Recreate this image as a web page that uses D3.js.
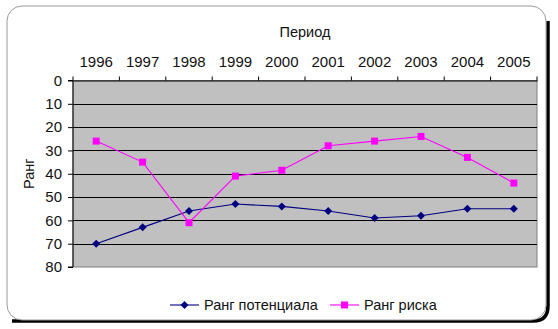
<!DOCTYPE html>
<html>
<head>
<meta charset="utf-8">
<script src="https://cdn.jsdelivr.net/npm/d3@7"></script>
<style>
  body { margin: 0; background: #fff; }
  text { font-family: "Liberation Sans", Arial, sans-serif; fill: #111; }
</style>
</head>
<body>
<script>
var w = 558;
var h = 329;

var years = ["1996", "1997", "1998", "1999", "2000", "2001", "2002", "2003", "2004", "2005"];
var potential = [70, 63, 56, 53, 54, 56, 59, 58, 55, 55];
var risk = [26, 35, 61, 41, 38.5, 28, 26, 24, 33, 44];
var yTicks = [0, 10, 20, 30, 40, 50, 60, 70, 80];

var pLeft = 73, pRight = 537, pTop = 80.5, pBottom = 267;

var svg = d3.select("body")
  .append("svg")
  .attr("width", w)
  .attr("height", h);

// frame with shadow
svg.append("path")
  .attr("d", "M 12 321 H 533 Q 548 321 548 306 V 21")
  .attr("fill", "none")
  .attr("stroke", "#000")
  .attr("stroke-width", 3.5);
svg.append("rect")
  .attr("x", 7).attr("y", 6)
  .attr("width", 539).attr("height", 314)
  .attr("rx", 15)
  .attr("fill", "#fff")
  .attr("stroke", "#9a9a9a")
  .attr("stroke-width", 1);

var xScale = d3.scaleBand()
  .domain(years)
  .range([pLeft, pRight]);

var yScale = d3.scaleLinear()
  .domain([0, 80])
  .range([pTop, pBottom]);

// plot area
svg.append("rect")
  .attr("x", pLeft).attr("y", pTop)
  .attr("width", pRight - pLeft).attr("height", pBottom - pTop)
  .attr("fill", "#c0c0c0")
  .attr("stroke", "#808080")
  .attr("stroke-width", 1);

svg.append("g")
  .selectAll("line")
  .data(yTicks.slice(1, -1))
  .enter()
  .append("line")
  .attr("x1", pLeft).attr("x2", pRight)
  .attr("y1", function(d) { return Math.round(yScale(d)) + 0.5; })
  .attr("y2", function(d) { return Math.round(yScale(d)) + 0.5; })
  .attr("stroke", "#000")
  .attr("stroke-width", 1.2);

// y axis
var yAxis = d3.axisLeft(yScale)
  .tickValues(yTicks)
  .tickSize(5)
  .tickPadding(6);

var gy = svg.append("g")
  .attr("transform", "translate(" + pLeft + ",0)")
  .call(yAxis);
gy.selectAll("text").style("font-size", "15px").attr("fill", "#111");
gy.selectAll("line, path").attr("stroke", "#000");
gy.select(".domain").attr("d", "M-5," + pTop + "H0V" + pBottom + "H-5");

// x axis on top
var xAxis = d3.axisTop(xScale)
  .tickSize(0)
  .tickPadding(14);

var gx = svg.append("g")
  .attr("transform", "translate(0," + pTop + ")")
  .call(xAxis);
gx.selectAll("text").style("font-size", "15px").attr("fill", "#111");
gx.select(".domain").attr("stroke", "#000");

gx.selectAll(".sep")
  .data(d3.range(years.length + 1))
  .enter()
  .append("line")
  .attr("x1", function(i) { return pLeft + i * xScale.bandwidth(); })
  .attr("x2", function(i) { return pLeft + i * xScale.bandwidth(); })
  .attr("y1", -4).attr("y2", 0)
  .attr("stroke", "#000");

svg.append("text")
  .attr("x", 305).attr("y", 37)
  .attr("text-anchor", "middle")
  .style("font-size", "14.5px")
  .text("Период");

svg.append("text")
  .attr("transform", "translate(34," + ((pTop + pBottom) / 2) + ") rotate(-90)")
  .attr("text-anchor", "middle")
  .style("font-size", "14.5px")
  .text("Ранг");

var cx = function(d, i) { return xScale(years[i]) + xScale.bandwidth() / 2; };

var line = d3.line()
  .x(function(d, i) { return cx(d, i); })
  .y(function(d) { return yScale(d); });

svg.append("path")
  .datum(potential)
  .attr("d", line)
  .attr("fill", "none")
  .attr("stroke", "#000080")
  .attr("stroke-width", 1.1);

svg.append("path")
  .datum(risk)
  .attr("d", line)
  .attr("fill", "none")
  .attr("stroke", "#ff00ff")
  .attr("stroke-width", 1.1);

// diamond = square turned 45 degrees
var diamond = d3.symbol().type(d3.symbolSquare).size(32);

svg.append("g")
  .selectAll("path")
  .data(potential)
  .enter()
  .append("path")
  .attr("d", diamond)
  .attr("transform", function(d, i) { return "translate(" + cx(d, i) + "," + yScale(d) + ") rotate(45)"; })
  .attr("fill", "#000080");

svg.append("g")
  .selectAll("rect")
  .data(risk)
  .enter()
  .append("rect")
  .attr("x", function(d, i) { return cx(d, i) - 3.5; })
  .attr("y", function(d) { return yScale(d) - 3.5; })
  .attr("width", 7).attr("height", 7)
  .attr("fill", "#ff00ff");

// legend
var legend = [
  { name: "Ранг потенциала", color: "#000080", x: 170, kind: "diamond" },
  { name: "Ранг риска", color: "#ff00ff", x: 330, kind: "square" }
];
var ly = 305;
legend.forEach(function(l) {
  svg.append("line")
    .attr("x1", l.x).attr("x2", l.x + 29)
    .attr("y1", ly).attr("y2", ly)
    .attr("stroke", l.color)
    .attr("stroke-width", 1.1);
  if (l.kind == "diamond") {
    svg.append("path")
      .attr("d", diamond)
      .attr("transform", "translate(" + (l.x + 14.5) + "," + ly + ") rotate(45)")
      .attr("fill", l.color);
  } else {
    svg.append("rect")
      .attr("x", l.x + 11).attr("y", ly - 3.5)
      .attr("width", 7).attr("height", 7)
      .attr("fill", l.color);
  }
  svg.append("text")
    .attr("x", l.x + 34).attr("y", ly + 5)
    .style("font-size", "14.5px")
    .text(l.name);
});
</script>
</body>
</html>
